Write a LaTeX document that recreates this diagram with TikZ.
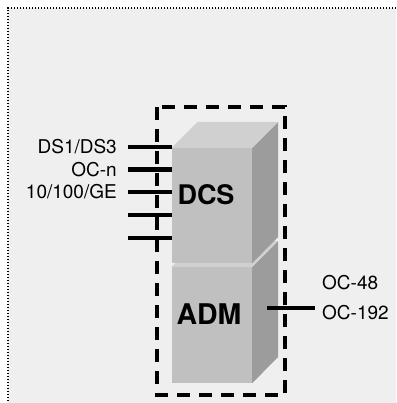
\documentclass[tikz,border=0pt]{standalone}
\usepackage{fontspec}
\setmainfont{TeX Gyre Heros}
\usepackage{xcolor}
\definecolor{fondgris}{HTML}{EFEFEF}
\definecolor{facefront}{HTML}{C0C0C0}
\definecolor{facetop}{HTML}{D0D0D0}
\definecolor{faceside}{HTML}{9C9C9C}
\usepackage{tikz}
\usetikzlibrary{positioning,calc}

\begin{document}
\begin{tikzpicture}[
  x=1pt,y=-1pt,
  lbl/.style={font=\fontsize{19}{22}\selectfont,inner sep=0pt},
  gros/.style={font=\fontsize{27}{30}\selectfont\bfseries,inner sep=0pt},
  front/.style={fill=facefront,minimum width=80pt,inner sep=0pt},
  wire/.style={line width=4pt,black},
  fence/.style={line width=4pt,black,dash pattern=on 13pt off 9pt}
]
\useasboundingbox (0,0) rectangle (396,403);
\fill[fondgris] (8,8) rectangle (396,403);
\draw[line width=1.3pt,dash pattern=on 1.3pt off 1.7pt] (396,8) -- (8,8) -- (8,403);
% ADM block
\node[front,minimum height=116pt] (adm) at (212,325) {};
\fill[faceside] (adm.north east) -- ++(26,-26) -- ++(0,116) -- (adm.south east) -- cycle;
\fill[facetop] (adm.north west) -- ++(26,-26) -- ++(80,0) -- (adm.north east) -- cycle;
% DCS block
\node[front,minimum height=115pt] (dcs) at (212,205.5) {};
\fill[faceside] (dcs.north east) -- ++(26,-26) -- ++(0,115) -- (dcs.south east) -- cycle;
\fill[facetop] (dcs.north west) -- ++(26,-26) -- ++(80,0) -- (dcs.north east) -- cycle;
\node[gros] (dcstxt) at ([xshift=-6pt,yshift=11pt]dcs.center) {DCS};
\node[gros,font=\fontsize{28.5}{31}\selectfont\bfseries] (admtxt) at ([xshift=-3pt,yshift=11pt]adm.center) {ADM};
% tributaries
\foreach \y [count=\i] in {147,169.5,192,215,238} {
  \coordinate (in\i) at (128,\y);
  \draw[wire] (in\i) -- (in\i -| dcs.west);
}
\node[lbl,left=11pt of in1] (lds) {DS1/DS3};
\node[lbl,left=11pt of in2] (locn) {OC-n};
\node[lbl,left=11pt of in3] (lge) {10/100/GE};
% line side
\coordinate (tap) at (267,308);
\coordinate (out) at (315,308);
\draw[wire] (tap) -- (out);
\node[lbl,anchor=west] (oc48) at (322,283) {OC-48};
\node[lbl,anchor=west] (oc192) at (322,313) {OC-192};
\draw[fence] (157,107) rectangle (285,395);
\end{tikzpicture}
\end{document}
